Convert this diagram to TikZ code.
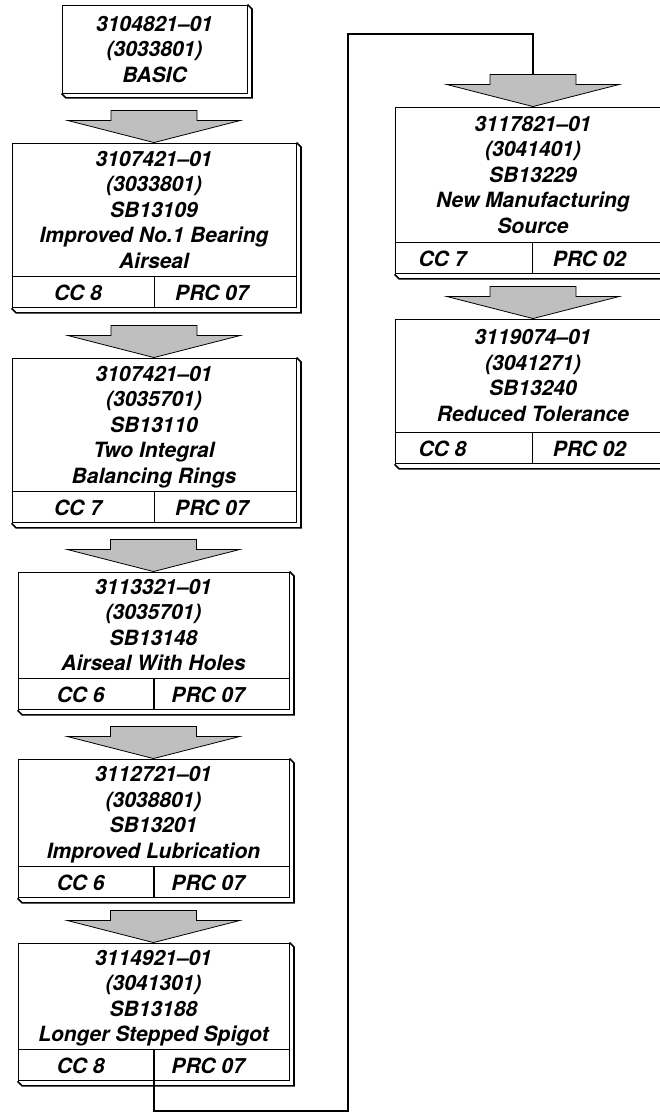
\documentclass[tikz,border=0pt]{standalone}
\usepackage{fontspec}
\newfontfamily\cardfamily{TeX Gyre Heros}
\usetikzlibrary{positioning,calc}
\pgfdeclarelayer{background}
\pgfsetlayers{background,main}
\tikzset{
  cardtext/.style={font=\cardfamily\bfseries\itshape\fontsize{21}{25.5}\selectfont},
  card/.style={cardtext,draw=black,line width=0.9pt,fill=white,align=center,inner sep=0pt,text depth=0pt,minimum width=#1},
  cell/.style={cardtext,draw=black,line width=0.9pt,fill=white,inner sep=0pt,minimum height=31pt,minimum width=#1},
  pull/.style={execute at end node={\hspace{#1}}},
  slab/.style={fill=white,draw=black,line width=1.6pt},
  blockarrow/.style={fill=black!25,draw=black,line width=0.8pt},
  link/.style={draw=black,line width=2pt}
}
% raised edge of a card: lower left cell, top node
\newcommand\slabof[2]{%
  \begin{pgfonlayer}{background}
    \filldraw[slab] (#1.south west) -- ++(4.5,4.5) -| ($(#2.north east)+(4.5,4.5)$) -- (#2.north east);
  \end{pgfonlayer}}
% grey block arrow pointing into a card
\newcommand\flowarrow[1]{%
  \draw[blockarrow] ($(#1.north)+(-43,-32)$) -- ++(86,0) -- ++(0,10) -- ++(43,0)
    -- (#1.north) -- ++(-86,-22) -- ++(43,0) -- cycle;}

\begin{document}
\begin{tikzpicture}[x=1pt,y=-1pt]
  \useasboundingbox (0,0) rectangle (659,1113);

  % left column
  \node (b1) [card=185pt,minimum height=88pt] at (154.5,49) {3104821–01\\(3033801)\\BASIC};

  \node (b2) [card=284pt,minimum height=133pt] at (154,209.5) {3107421–01\\(3033801)\\SB13109\\Improved No.1 Bearing\\Airseal};
  \node (b2c) [cell=142pt,pull=10pt,below right=0pt of b2.south west] {CC 8};
  \node (b2p) [cell=142pt,pull=28pt,right=0pt of b2c] {PRC 07};

  \node (b3) [card=284pt,minimum height=133pt] at (154,424.5) {3107421–01\\(3035701)\\SB13110\\Two Integral\\Balancing Rings};
  \node (b3c) [cell=142pt,pull=10pt,below right=0pt of b3.south west] {CC 7};
  \node (b3p) [cell=142pt,pull=28pt,right=0pt of b3c] {PRC 07};

  \node (b4) [card=271pt,minimum height=106pt] at (153.5,625) {3113321–01\\(3035701)\\SB13148\\Airseal With Holes};
  \node (b4c) [cell=135.5pt,pull=10pt,below right=0pt of b4.south west] {CC 6};
  \node (b4p) [cell=135.5pt,pull=28pt,right=0pt of b4c] {PRC 07};

  \node (b5) [card=271pt,minimum height=107pt] at (153.5,812.5) {3112721–01\\(3038801)\\SB13201\\Improved Lubrication};
  \node (b5c) [cell=135.5pt,pull=10pt,below right=0pt of b5.south west] {CC 6};
  \node (b5p) [cell=135.5pt,pull=28pt,right=0pt of b5c] {PRC 07};

  \node (b6) [card=271pt,minimum height=106pt] at (153.5,996) {3114921–01\\(3041301)\\SB13188\\Longer Stepped Spigot};
  \node (b6c) [cell=135.5pt,pull=10pt,below right=0pt of b6.south west] {CC 8};
  \node (b6p) [cell=135.5pt,pull=28pt,right=0pt of b6c] {PRC 07};

  % right column
  \node (b7) [card=276pt,minimum height=135pt] at (533,174.5) {3117821–01\\(3041401)\\SB13229\\New Manufacturing\\Source};
  \node (b7c) [cell=137pt,pull=42pt,below right=0pt of b7.south west] {CC 7};
  \node (b7p) [cell=139pt,pull=26pt,right=0pt of b7c] {PRC 02};

  \node (b8) [card=276pt,minimum height=113pt] at (533,375.5) {3119074–01\\(3041271)\\SB13240\\Reduced Tolerance};
  \node (b8c) [cell=137pt,pull=42pt,below right=0pt of b8.south west] {CC 8};
  \node (b8p) [cell=139pt,pull=26pt,right=0pt of b8c] {PRC 02};

  \slabof{b1}{b1}
  \slabof{b2c}{b2}
  \slabof{b3c}{b3}
  \slabof{b4c}{b4}
  \slabof{b5c}{b5}
  \slabof{b6c}{b6}
  \slabof{b7c}{b7}
  \slabof{b8c}{b8}

  \flowarrow{b2}
  \flowarrow{b3}
  \flowarrow{b4}
  \flowarrow{b5}
  \flowarrow{b6}
  \flowarrow{b7}
  \flowarrow{b8}

  % jump to the second column
  \coordinate (loopa) at (348,1111);
  \coordinate (loopb) at (348,34);
  \draw[link] (b6c.south east) |- (loopa) -- (loopb) -| ($(b7.north)+(0,-32)$);
\end{tikzpicture}
\end{document}
